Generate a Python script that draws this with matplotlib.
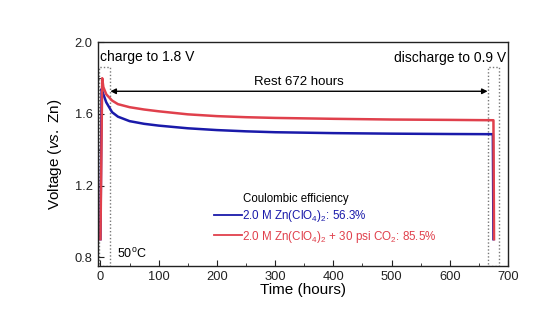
import matplotlib
matplotlib.use("Agg")
import matplotlib.pyplot as plt
from matplotlib.ticker import MultipleLocator
from matplotlib.patches import Rectangle

plt.rcParams['font.family'] = ['Liberation Sans', 'DejaVu Sans']
plt.rcParams['mathtext.fontset'] = 'custom'
plt.rcParams['mathtext.rm'] = 'Liberation Sans'
plt.rcParams['mathtext.it'] = 'Liberation Sans:italic'
plt.rcParams['mathtext.bf'] = 'Liberation Sans:bold'

# Data
blue_t = [0, 2, 5, 10, 20, 30, 50, 75, 100, 150, 200, 250, 300, 400, 500, 600, 674, 675]
blue_v = [0.90, 1.74, 1.71, 1.665, 1.61, 1.585, 1.56, 1.545, 1.535, 1.52, 1.51, 1.503, 1.498, 1.493, 1.49, 1.488, 1.487, 0.90]
red_t = [0, 3, 5, 10, 20, 30, 50, 75, 100, 150, 200, 250, 300, 400, 500, 600, 675, 676]
red_v = [0.90, 1.80, 1.75, 1.71, 1.675, 1.655, 1.638, 1.625, 1.615, 1.598, 1.588, 1.582, 1.578, 1.573, 1.569, 1.567, 1.565, 0.90]
blue_label = '2.0 M Zn(ClO$_4$)$_2$: 56.3%'
red_label = '2.0 M Zn(ClO$_4$)$_2$ + 30 psi CO$_2$: 85.5%'
x_ticks = [0, 100, 200, 300, 400, 500, 600, 700]
y_ticks = [0.8, 1.2, 1.6, 2.0]
charge_box = (-2, 17, 1.86)
discharge_box = (665, 685, 1.86)
rest_arrow = (17, 665, 1.727)

blue_c = '#1a1aaa'
red_c = '#e0404c'

fig = plt.figure(figsize=(5.48, 3.24), dpi=100)
ax = fig.add_axes([0.178, 0.179, 0.749, 0.690])

ax.plot(blue_t, blue_v, color=blue_c, lw=1.8, label=blue_label)
ax.plot(red_t, red_v, color=red_c, lw=1.8, label=red_label)

ax.set_xlim(-5, 700)
ax.set_ylim(0.75, 2.0)
ax.set_xticks(x_ticks)
ax.set_yticks(y_ticks)
ax.xaxis.set_minor_locator(MultipleLocator(50))
ax.yaxis.set_minor_locator(MultipleLocator(0.2))
ax.tick_params(which='both', direction='in', labelsize=9.3, colors='#222222')
ax.tick_params(which='major', length=4)
ax.tick_params(which='minor', length=2.5)
for s in ax.spines.values():
    s.set_linewidth(1.0)
    s.set_color('#222222')

ax.set_xlabel('Time (hours)', fontsize=11, labelpad=0)
ax.set_ylabel('Voltage ($\\it{vs.}$ Zn)', fontsize=11, labelpad=8)

for x0, x1, top in (charge_box, discharge_box):
    ax.add_patch(Rectangle((x0, 0.75), x1 - x0, top - 0.75, fill=False,
                           ls=(0, (1, 1.5)), lw=1.0, ec='#777777'))

a0, a1, ay = rest_arrow
ax.annotate('', xy=(a0, ay), xytext=(a1, ay),
            arrowprops=dict(arrowstyle='<|-|>', color='black', lw=1.0,
                            mutation_scale=8, shrinkA=0, shrinkB=0))
ax.text((a0 + a1) / 2, ay + 0.02, 'Rest 672 hours', ha='center', va='bottom', fontsize=9.5)
ax.text(0.005, 0.935, 'charge to 1.8 V', transform=ax.transAxes, fontsize=10, va='center', ha='left')
ax.text(0.995, 0.93, 'discharge to 0.9 V', transform=ax.transAxes, fontsize=10, va='center', ha='right')
ax.text(0.048, 0.055, '50$^{\\rm o}$C', transform=ax.transAxes, fontsize=9, va='center', ha='left')

ax.text(0.355, 0.30, 'Coulombic efficiency', transform=ax.transAxes, fontsize=8.3, va='center', ha='left')
leg = ax.legend(loc='upper left', bbox_to_anchor=(0.283, 0.26), frameon=False,
                fontsize=8.4, handlelength=2.4, handletextpad=0.05, labelspacing=0.4,
                borderpad=0, borderaxespad=0)
for txt, c in zip(leg.get_texts(), [blue_c, red_c]):
    txt.set_color(c)
for h in leg.get_lines():
    h.set_linewidth(1.3)

fig.savefig('out.png', dpi=100)
